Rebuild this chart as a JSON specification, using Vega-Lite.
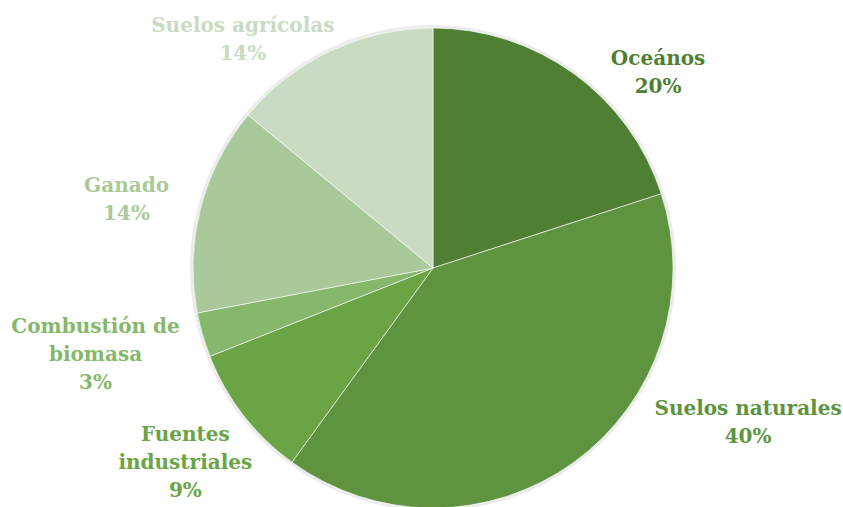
{
  "$schema": "https://vega.github.io/schema/vega-lite/v6.json",
  "width": 820,
  "height": 478,
  "autosize": {"type": "none"},
  "padding": {"left": 23, "top": 29, "right": 0, "bottom": 0},
  "background": "white",
  "view": {"stroke": null},
  "data": {
    "values": [
      {"cat": "Oceános", "value": 20, "order": 1, "label": "Oceános\n20%"},
      {"cat": "Suelos naturales", "value": 40, "order": 2, "label": "Suelos naturales\n40%"},
      {"cat": "Fuentes industriales", "value": 9, "order": 3, "label": "Fuentes\nindustriales\n9%"},
      {"cat": "Combustión de biomasa", "value": 3, "order": 4, "label": "Combustión de\nbiomasa\n3%"},
      {"cat": "Ganado", "value": 14, "order": 5, "label": "Ganado\n14%"},
      {"cat": "Suelos agrícolas", "value": 14, "order": 6, "label": "Suelos agrícolas\n14%"}
    ]
  },
  "encoding": {
    "theta": {"field": "value", "type": "quantitative", "stack": true},
    "order": {"field": "order", "type": "quantitative"}
  },
  "layer": [
    {
      "mark": {"type": "arc", "radius": 243, "color": "#ececec"}
    },
    {
      "mark": {"type": "arc", "radius": 240, "stroke": "white", "strokeWidth": 0.6},
      "encoding": {
        "color": {
          "field": "cat", "type": "nominal", "legend": null,
          "scale": {
            "domain": ["Oceános", "Suelos naturales", "Fuentes industriales", "Combustión de biomasa", "Ganado", "Suelos agrícolas"],
            "range": ["#4f7f33", "#5e9340", "#6aa444", "#86b86b", "#aac99b", "#c9dbc2"]
          }
        }
      }
    },
    {
      "mark": {"type": "text", "radius": 240, "dx": 84, "dy": -15, "font": "DejaVu Serif", "fontWeight": "bold", "fontSize": 20, "lineHeight": 28, "lineBreak": "\n", "align": "center", "baseline": "middle"},
      "encoding": {
        "color": {"field": "cat", "type": "nominal", "legend": null},
        "text": {"condition": {"test": "datum.cat === 'Oceános'", "field": "label"}, "value": ""}
      }
    },
    {
      "mark": {"type": "text", "radius": 240, "dx": 174, "dy": -53, "font": "DejaVu Serif", "fontWeight": "bold", "fontSize": 20, "lineHeight": 28, "lineBreak": "\n", "align": "center", "baseline": "middle"},
      "encoding": {
        "color": {"field": "cat", "type": "nominal", "legend": null},
        "text": {"condition": {"test": "datum.cat === 'Suelos naturales'", "field": "label"}, "value": ""}
      }
    },
    {
      "mark": {"type": "text", "radius": 240, "dx": -58, "dy": 20, "font": "DejaVu Serif", "fontWeight": "bold", "fontSize": 20, "lineHeight": 28, "lineBreak": "\n", "align": "center", "baseline": "middle"},
      "encoding": {
        "color": {"field": "cat", "type": "nominal", "legend": null},
        "text": {"condition": {"test": "datum.cat === 'Fuentes industriales'", "field": "label"}, "value": ""}
      }
    },
    {
      "mark": {"type": "text", "radius": 240, "dx": -107, "dy": -8, "font": "DejaVu Serif", "fontWeight": "bold", "fontSize": 20, "lineHeight": 28, "lineBreak": "\n", "align": "center", "baseline": "middle"},
      "encoding": {
        "color": {"field": "cat", "type": "nominal", "legend": null},
        "text": {"condition": {"test": "datum.cat === 'Combustión de biomasa'", "field": "label"}, "value": ""}
      }
    },
    {
      "mark": {"type": "text", "radius": 240, "dx": -74, "dy": -22, "font": "DejaVu Serif", "fontWeight": "bold", "fontSize": 20, "lineHeight": 28, "lineBreak": "\n", "align": "center", "baseline": "middle"},
      "encoding": {
        "color": {"field": "cat", "type": "nominal", "legend": null},
        "text": {"condition": {"test": "datum.cat === 'Ganado'", "field": "label"}, "value": ""}
      }
    },
    {
      "mark": {"type": "text", "radius": 240, "dx": -88, "dy": -25, "font": "DejaVu Serif", "fontWeight": "bold", "fontSize": 20, "lineHeight": 28, "lineBreak": "\n", "align": "center", "baseline": "middle"},
      "encoding": {
        "color": {"field": "cat", "type": "nominal", "legend": null},
        "text": {"condition": {"test": "datum.cat === 'Suelos agrícolas'", "field": "label"}, "value": ""}
      }
    }
  ]
}
